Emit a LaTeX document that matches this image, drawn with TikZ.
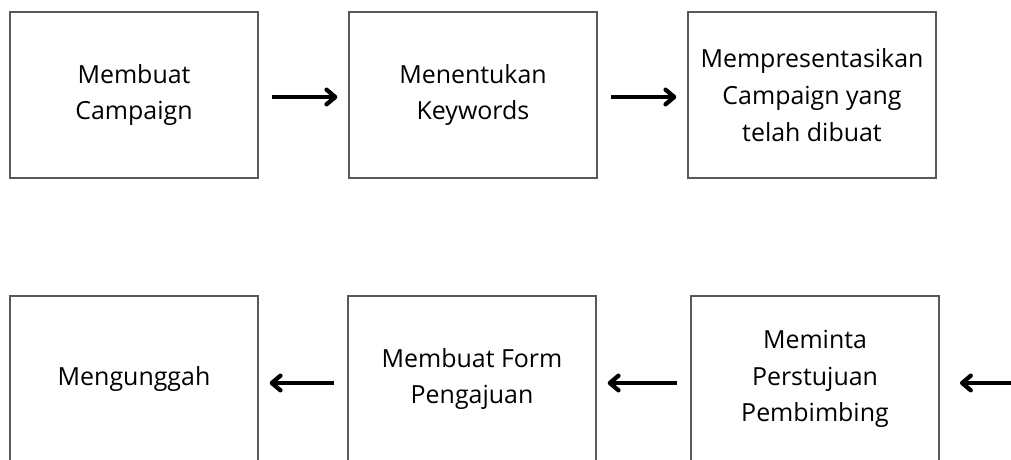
\documentclass[tikz,border=0pt]{standalone}
\usepackage{fontspec}
\setmainfont{Open Sans}
\usetikzlibrary{arrows.meta}

\tikzset{
    langkah/.style={draw=black!65, line width=1.5pt, rectangle, align=center,
        minimum width=186pt, minimum height=124pt, inner sep=0pt,
        font=\fontsize{18.7}{27.5}\selectfont},
    panah/.style={-{Straight Barb[length=6.5pt,width=11pt,line width=3.2pt,round]}, line width=3.4pt,
        shorten <=10pt, shorten >=8pt}
}

\begin{document}
\begin{tikzpicture}[x=0.75pt,y=-0.75pt]
    \useasboundingbox (0,0) rectangle (1011,460);

    % baris atas
    \node[langkah] (campaign) at (134,95) {Membuat\\Campaign};
    \node[langkah] (keywords) at (473,95) {Menentukan\\Keywords};
    \node[langkah] (presentasi) at (812,95) {Mempresentasikan\\Campaign yang\\telah dibuat};

    % baris bawah
    \node[langkah] (unggah) at (134,379) {Mengunggah};
    \node[langkah] (form) at (472,379) {Membuat Form\\Pengajuan};
    \node[langkah] (setuju) at (815,379) {Meminta\\Perstujuan\\Pembimbing};
    \coordinate (masuk) at (1030,383);

    \draw[panah] ([yshift=-1.5pt]campaign.east) -- ([yshift=-1.5pt]keywords.west);
    \draw[panah] ([yshift=-1.5pt]keywords.east) -- ([yshift=-1.5pt]presentasi.west);
    \draw[panah, shorten >=15pt] (masuk) -- ([yshift=-3pt]setuju.east);
    \draw[panah] ([yshift=-3pt]setuju.west) -- ([yshift=-3pt]form.east);
    \draw[panah] ([yshift=-3pt]form.west) -- ([yshift=-3pt]unggah.east);
\end{tikzpicture}
\end{document}
